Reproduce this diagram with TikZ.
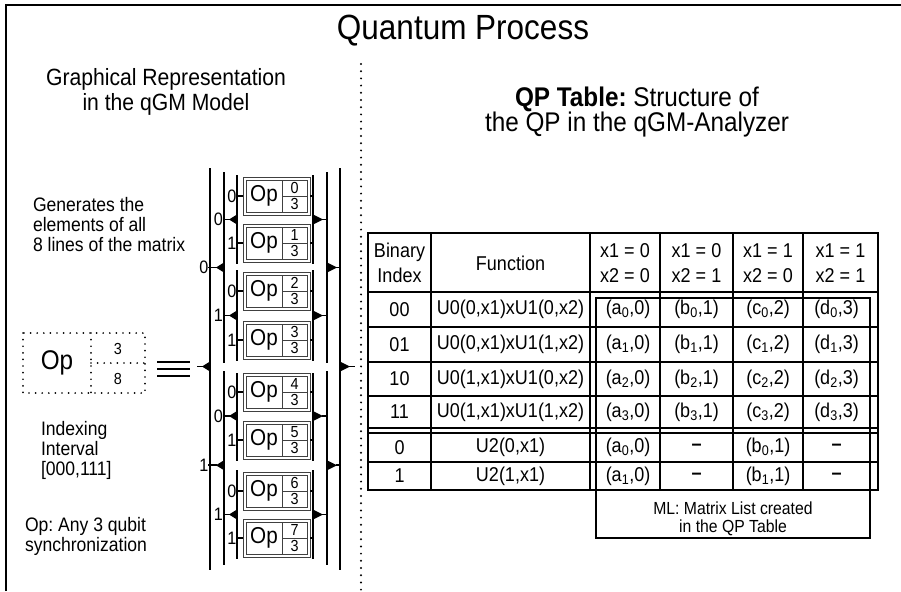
\documentclass[tikz,border=0pt]{standalone}
\usepackage{fontspec}
\setmainfont{Liberation Sans}[FakeStretch=0.9]
\frenchspacing
\tikzset{
  every node/.style={inner sep=0pt, outer sep=0pt},
  hdtitle/.style={font=\fontsize{35}{40}\selectfont},
  subhead/.style={font=\fontsize{23.5}{24.5}\selectfont, align=center},
  qphead/.style={font=\fontsize{27}{25}\selectfont, align=center},
  note/.style={font=\fontsize{19.5}{20}\selectfont, align=left, anchor=west},
  cell/.style={font=\fontsize{20}{25}\selectfont, align=center},
  mlnote/.style={font=\fontsize{17.5}{18.5}\selectfont, align=center},
  lbl/.style={font=\fontsize{18}{18}\selectfont, anchor=east},
  opf/.style={font=\fontsize{23}{22}\selectfont},
  opbig/.style={font=\fontsize{27}{27}\selectfont},
  frac/.style={font=\fontsize{16}{16}\selectfont},
  wire/.style={line width=1.6pt},
  boxline/.style={line width=0.9pt, draw=black!75},
  grid/.style={line width=1.4pt},
  dotline/.style={line width=2.2pt, dash pattern=on 0pt off 7.2pt, line cap=round},
  dotbox/.style={line width=1.9pt, dash pattern=on 0pt off 6.6pt, line cap=round},
}
\newcommand\qprow[8]{%
  \node[cell] (b#2) at (399.5,#1) {#3};
  \node[cell] (f#2) at (510.5,#1) {#4};
  \node[cell] (p#2) at (628,#1) {#5};
  \node[cell] (q#2) at (696.5,#1) {#6};
  \node[cell] (r#2) at (768,#1) {#7};
  \node[cell] (s#2) at (836.5,#1) {#8};
}
\newcommand\lefttri[3]{\fill (#1,#2-#3) -- (#1,#2+#3) -- (#1-8,#2) -- cycle;}
\newcommand\righttri[3]{\fill (#1,#2-#3) -- (#1,#2+#3) -- (#1+10,#2) -- cycle;}
\begin{document}
\begin{tikzpicture}[x=1pt,y=-1pt]
\fill[white] (0,0) rectangle (901,591);
\useasboundingbox (0,0) rectangle (901,591);
% frame
\draw[line width=2.6pt] (6,591) -- (6,5) -- (901,5);
% headings
\node[hdtitle] (title) at (463,31) {Quantum Process};
\node[subhead] (lefthead) at (166,92) {Graphical Representation\\in the qGM Model};
\node[qphead] (righthead) at (637,112) {\textbf{QP Table:} Structure of\\the QP in the qGM-Analyzer};
% separator
\draw[dotline] (361,64) -- (361,590);
% left notes
\node[note] (gen) at (33,225) {Generates the\\elements of all\\8 lines of the matrix};
\node[note] (idx) at (41,450) {Indexing\\Interval\\{[000,111]}};
\node[note] (anyop) at (25,536) {Op: Any 3 qubit\\synchronization};
% dotted Op box
\draw[dotbox] (23,333) rectangle (145,393);
\draw[dotbox] (91,333) -- (91,393);
\draw[dotbox] (91,363) -- (145,363);
\node[opbig] (opbig) at (57,363) {Op};
\node[frac] (opthree) at (118,349) {3};
\node[frac] (opeight) at (118,379) {8};
% equivalence
\draw[line width=2pt] (157,362) -- (190,362) (157,369) -- (190,369) (157,376) -- (190,376);
% ---- circuit ----
% level 1
\draw[wire] (210,168) -- (210,570);
\draw[wire] (340,168) -- (340,570);
\lefttri{210}{366.5}{5}
\draw[wire] (197,366.5) -- (203,366.5);
\righttri{340}{366.5}{5}
\draw[wire] (349,366.5) -- (355,366.5);
% level 2
\foreach \t/\b/\m/\v [count=\k] in {172/363/267.5/0, 371/565/465.25/1} {
  \draw[wire] (224,\t) -- (224,\b);
  \draw[wire] (327,\t) -- (327,\b);
  \lefttri{224}{\m}{5}
  \draw[wire] (208,\m) -- (217,\m);
  \node[lbl] (lvtwo\k) at (208.5,\m) {\v};
  \righttri{327}{\m}{5}
  \draw[wire] (336,\m) -- (340,\m);
}
% level 3
\foreach \t/\b/\m/\v [count=\k] in {175/264/219.5/0, 270/361/315.5/1, 373/461/416/0, 470/559/514.5/1} {
  \draw[wire] (237,\t) -- (237,\b);
  \draw[wire] (313,\t) -- (313,\b);
  \lefttri{237}{\m}{5}
  \draw[wire] (224,\m) -- (230,\m);
  \node[lbl] (lvthree\k) at (223,\m) {\v};
  \righttri{313}{\m}{5}
  \draw[wire] (322,\m) -- (327,\m);
}
% Op boxes
\foreach \c [count=\i from 0] in {196,243,291,340,392,440,491,538} {
  \pgfmathtruncatemacro\bit{mod(\i,2)}
  \draw[boxline] (243,\c-19) rectangle (310,\c+19);
  \draw[boxline] (246,\c-16) rectangle (307,\c+16);
  \draw[boxline] (282,\c-16) -- (282,\c+16);
  \draw[boxline] (282,\c) -- (307,\c);
  \node[opf] (op\i) at (264,\c) {Op};
  \node[frac] (num\i) at (294.5,\c-8) {\i};
  \node[frac] (den\i) at (294.5,\c+8) {3};
  \draw[wire] (237,\c) -- (243,\c);
  \draw[wire] (310,\c) -- (313,\c);
  \node[lbl] (bit\i) at (236.5,\c) {\bit};
}
% ---- table ----
\draw[grid] (368,233) rectangle (878,490);
\foreach \y in {292,327,362,396,428,433,462} \draw[grid] (368,\y) -- (878,\y);
\foreach \x in {431,590,660,733,803} \draw[grid] (\x,233) -- (\x,490);
\draw[grid] (596,298) rectangle (870,538);
% header
\node[cell] (hbin) at (399.5,263) {Binary\\Index};
\node[cell] (hfun) at (510.5,263) {Function};
\node[cell] (ha) at (625,263) {x1 = 0\\x2 = 0};
\node[cell] (hb) at (696.5,263) {x1 = 0\\x2 = 1};
\node[cell] (hc) at (768,263) {x1 = 1\\x2 = 0};
\node[cell] (hd) at (840.5,263) {x1 = 1\\x2 = 1};
\qprow{309.5}{r0}{00}{U0(0,x1)xU1(0,x2)}{(a\textsubscript{0},0)}{(b\textsubscript{0},1)}{(c\textsubscript{0},2)}{(d\textsubscript{0},3)}
\qprow{344.5}{r1}{01}{U0(0,x1)xU1(1,x2)}{(a\textsubscript{1},0)}{(b\textsubscript{1},1)}{(c\textsubscript{1},2)}{(d\textsubscript{1},3)}
\qprow{379}{r2}{10}{U0(1,x1)xU1(0,x2)}{(a\textsubscript{2},0)}{(b\textsubscript{2},1)}{(c\textsubscript{2},2)}{(d\textsubscript{2},3)}
\qprow{412}{r3}{11}{U0(1,x1)xU1(1,x2)}{(a\textsubscript{3},0)}{(b\textsubscript{3},1)}{(c\textsubscript{3},2)}{(d\textsubscript{3},3)}
\qprow{447.5}{r4}{0}{U2(0,x1)}{(a\textsubscript{0},0)}{\textbf{--}}{(b\textsubscript{0},1)}{\textbf{--}}
\qprow{476}{r5}{1}{U2(1,x1)}{(a\textsubscript{1},0)}{\textbf{--}}{(b\textsubscript{1},1)}{\textbf{--}}
\node[mlnote] (ml) at (733,519) {ML: Matrix List created\\in the QP Table};
\end{tikzpicture}
\end{document}
